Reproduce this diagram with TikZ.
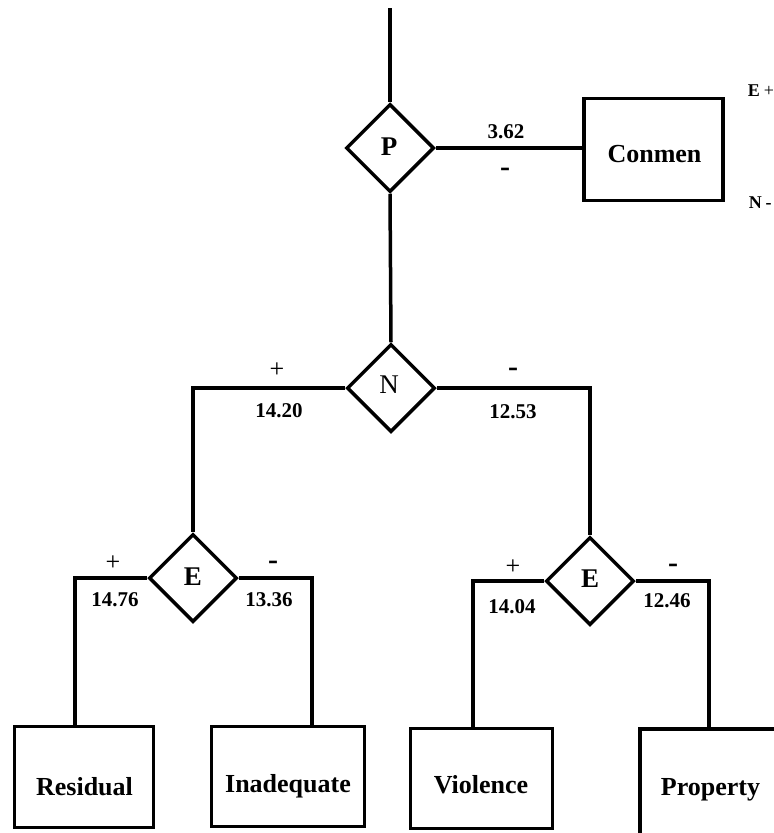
\documentclass[tikz,border=0pt]{standalone}
\usepackage{fontspec}
\setmainfont{Liberation Serif}
\usetikzlibrary{shapes.geometric}
\begin{document}
\begin{tikzpicture}[x=1pt,y=-1pt,
  line width=3.5pt,
  dia/.style={draw,shape=diamond,minimum width=88pt,minimum height=88pt,inner sep=0pt,line width=3.5pt},
  boxnode/.style={draw,rectangle,inner sep=0pt,line width=3.5pt},
  dlet/.style={anchor=base,inner sep=0pt,font=\fontsize{27}{30}\selectfont\bfseries},
  nlet/.style={anchor=base,inner sep=0pt,font=\fontsize{27}{30}\selectfont},
  blab/.style={anchor=base,inner sep=0pt,font=\fontsize{26}{30}\selectfont\bfseries},
  num/.style={anchor=base,inner sep=0pt,font=\fontsize{21}{24}\selectfont\bfseries},
  plus/.style={inner sep=0pt,font=\fontsize{26}{28}\selectfont},
  minus/.style={inner sep=0pt,font=\fontsize{30}{32}\selectfont\bfseries},
  side/.style={anchor=base west,inner sep=0pt,font=\fontsize{18}{20}\selectfont\bfseries}
]
\clip (0,0) rectangle (774,833);
\fill[white] (0,0) rectangle (774,833);

% diamonds
\node[dia] (P) at (390,148) {};
\node[dia] (N) at (391,388) {};
\node[dia] (E1) at (193,578) {};
\node[dia] (E2) at (590,581) {};

\node[dlet] (Pt) at (389,155) {P};
\node[nlet] (Nt) at (389,393) {N};
\node[dlet] (E1t) at (193,585) {E};
\node[dlet] (E2t) at (590,587) {E};

% boxes
\node[boxnode,minimum width=139pt,minimum height=102pt] (Conmen) at (653.5,149.5) {};
\node[boxnode,minimum width=139pt,minimum height=101pt] (Residual) at (84,777) {};
\node[boxnode,minimum width=153pt,minimum height=100pt] (Inadequate) at (288,776.5) {};
\node[boxnode,minimum width=142pt,minimum height=100pt] (Violence) at (481.5,778.5) {};
\node[boxnode,minimum width=170pt,minimum height=150pt] (Property) at (725,804) {};

\node[blab] (Conment) at (654.5,162) {Conmen};
\node[blab] (Rest) at (84.5,795) {Residual};
\node[blab] (Inat) at (288,792) {Inadequate};
\node[blab] (Viot) at (481,793) {Violence};
\node[blab] (Prot) at (710.5,795) {Property};

% connectors
\coordinate (top) at (390,8);
\coordinate (jR) at (75,578);
\coordinate (jI) at (312,578);
\coordinate (jV) at (473,581);
\coordinate (jP) at (709,581);

\draw (top) -- (P.north);
\draw (P.east) -- (P.east -| Conmen.west);
\draw (P.south) -- (N.north);
\draw (N.west) -| (E1.north);
\draw (N.east) -| (E2.north);
\draw (E1.west) -- (jR) -- (jR |- Residual.north);
\draw (E1.east) -- (jI) -- (jI |- Inadequate.north);
\draw (E2.west) -- (jV) -- (jV |- Violence.north);
\draw (E2.east) -- (jP) -- (jP |- Property.north);

% labels
\node[num] (l362) at (506,138) {3.62};
\node[minus] (m362) at (505,172) {-};
\node[side] (Eplus) at (746,96) {E\kern4pt{\mdseries+}};
\node[side] (Nminus) at (747,208) {N\kern4pt-};

\node[plus] (p1420) at (277,370) {+};
\node[num] (l1420) at (279,417) {14.20};
\node[minus] (m1253) at (513,372) {-};
\node[num] (l1253) at (513,418) {12.53};

\node[plus] (p1476) at (113,563) {+};
\node[num] (l1476) at (115,606) {14.76};
\node[minus] (m1336) at (273,565) {-};
\node[num] (l1336) at (269,606) {13.36};

\node[plus] (p1404) at (513,567) {+};
\node[num] (l1404) at (512,613) {14.04};
\node[minus] (m1246) at (673,568) {-};
\node[num] (l1246) at (667,607) {12.46};
\end{tikzpicture}
\end{document}
